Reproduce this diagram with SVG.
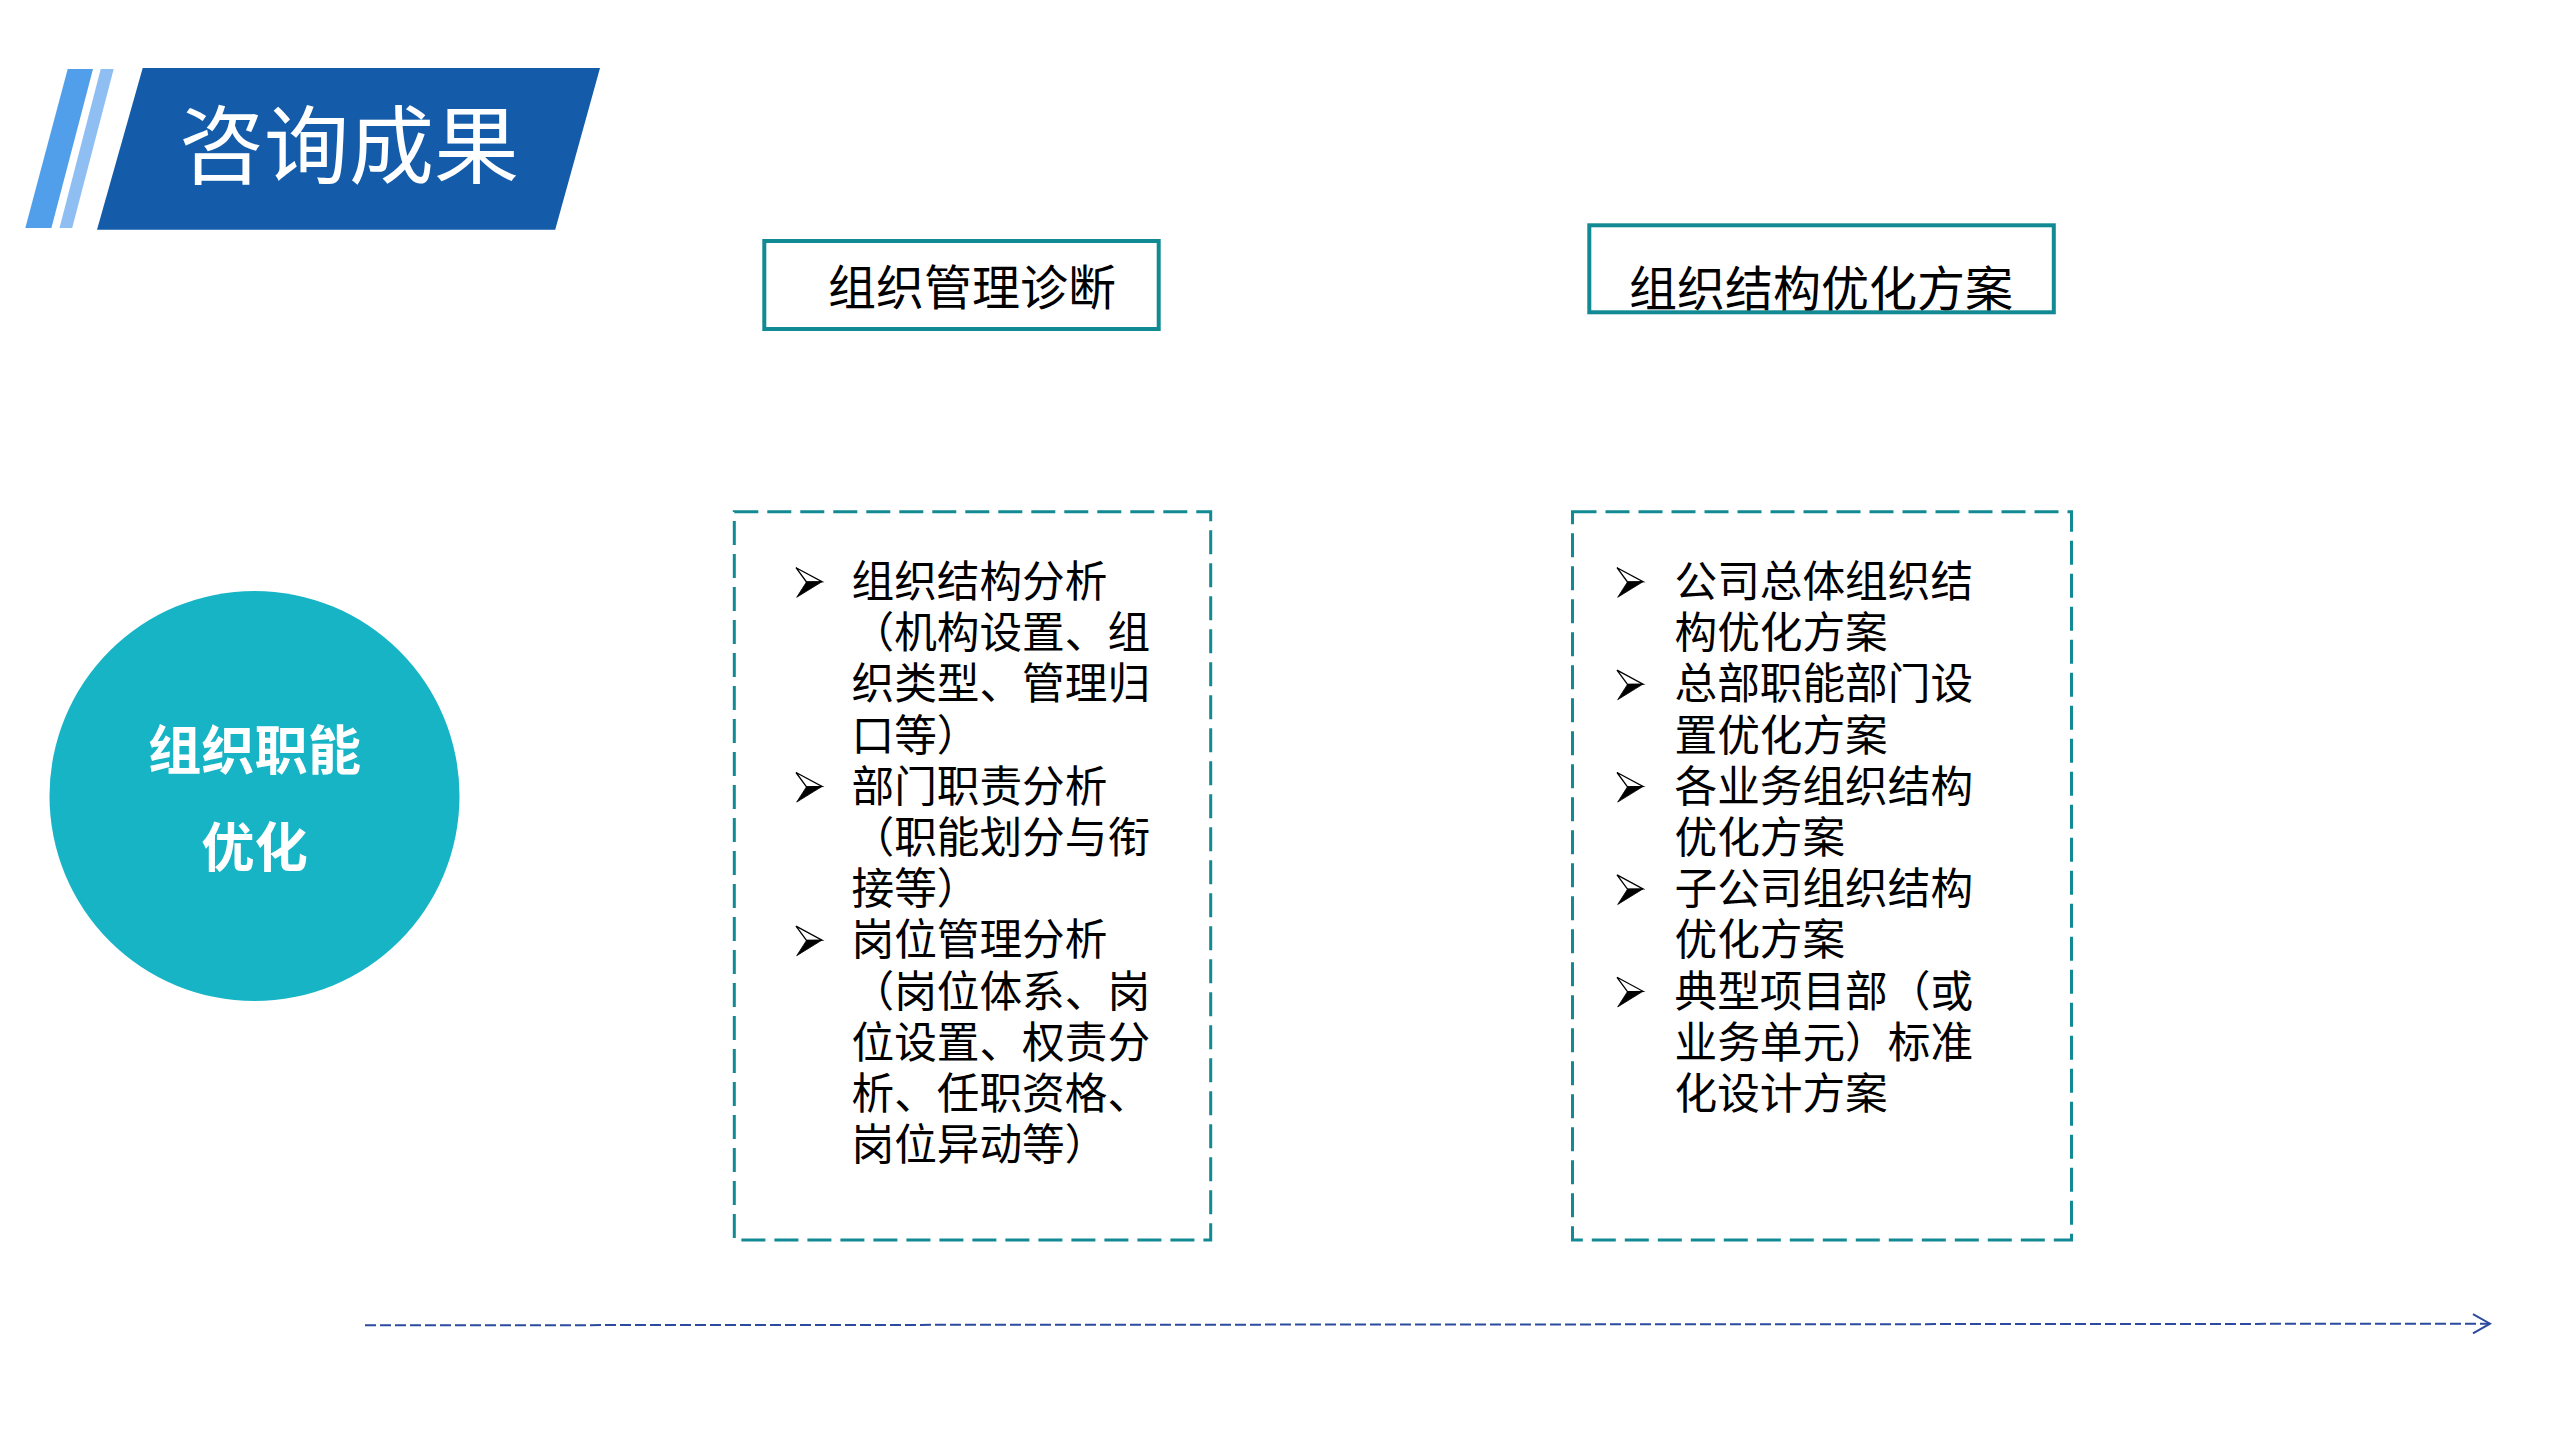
<svg xmlns="http://www.w3.org/2000/svg" width="2560" height="1440" viewBox="0 0 2560 1440">
<defs>
<style>
.cjk{font-family:"Noto Sans CJK SC","Noto Sans",sans-serif;}
.hdr{fill:#fff;stroke:#128A93;stroke-width:4;}
.htxt{font-size:48px;fill:#000;}
.dash{fill:none;stroke:#128A93;stroke-width:3;stroke-dasharray:24 9;}
.item{font-size:42.67px;fill:#000;}
</style>
<g id="bullet">
<polygon points="0,-29.3 26,-15.3 10.5,-15" fill="#fff" stroke="#000" stroke-width="1.3" stroke-linejoin="miter"/>
<polygon points="10.5,-15 26,-15.3 0.7,0.3" fill="#000" stroke="#000" stroke-width="0.8"/>
</g>
<marker id="open" markerUnits="userSpaceOnUse" markerWidth="24" markerHeight="24" refX="20" refY="12" orient="auto" viewBox="0 0 24 24">
<path d="M3 2.3 L20 12 L3 21.7" fill="none" stroke="#2C4B9E" stroke-width="2"/>
</marker>
</defs>
<rect width="2560" height="1440" fill="#fff"/>
<g id="title">
<polygon points="67.7,69 93,69 51.4,228 25.3,228" fill="#519FEA"/>
<polygon points="100.7,69 113.7,69 72.2,228 59.5,228" fill="#8FBFF2"/>
<polygon points="142.7,68 600,68 555.2,229.7 97,229.7" fill="#145CAA"/>
<text class="cjk" x="179" y="177" font-size="85" fill="#fff">咨询成果</text>
</g>
<g id="node-circle">
<circle cx="254.5" cy="796" r="205" fill="#17B4C6"/>
<text class="cjk" x="254.5" y="770" font-size="53.3" font-weight="bold" fill="#fff" text-anchor="middle">组织职能</text>
<text class="cjk" x="254.5" y="867" font-size="53.3" font-weight="bold" fill="#fff" text-anchor="middle">优化</text>
</g>
<g id="node-diagnosis">
<rect class="hdr" x="764.3" y="241" width="394.4" height="88"/>
<text class="cjk htxt" x="828" y="305">组织管理诊断</text>
</g>
<g id="node-plan">
<rect class="hdr" x="1589.3" y="225.3" width="464.5" height="87"/>
<text class="cjk htxt" x="1629" y="305.5">组织结构优化方案</text>
</g>
<g id="node-diagnosis-items">
<rect class="dash" x="734.3" y="511.7" width="476.4" height="728.3"/>
<use href="#bullet" x="796" y="597"/>
<use href="#bullet" x="796" y="801.8"/>
<use href="#bullet" x="796" y="955.4"/>
<text class="cjk item" x="851.5" y="597">组织结构分析</text>
<text class="cjk item" x="851.5" y="648.2">（机构设置、组</text>
<text class="cjk item" x="851.5" y="699.4">织类型、管理归</text>
<text class="cjk item" x="851.5" y="750.6">口等）</text>
<text class="cjk item" x="851.5" y="801.8">部门职责分析</text>
<text class="cjk item" x="851.5" y="853">（职能划分与衔</text>
<text class="cjk item" x="851.5" y="904.2">接等）</text>
<text class="cjk item" x="851.5" y="955.4">岗位管理分析</text>
<text class="cjk item" x="851.5" y="1006.6">（岗位体系、岗</text>
<text class="cjk item" x="851.5" y="1057.8">位设置、权责分</text>
<text class="cjk item" x="851.5" y="1109">析、任职资格、</text>
<text class="cjk item" x="851.5" y="1160.2">岗位异动等）</text>
</g>
<g id="node-plan-items">
<rect class="dash" x="1572.5" y="511.7" width="499" height="728.3"/>
<use href="#bullet" x="1617" y="597"/>
<use href="#bullet" x="1617" y="699.4"/>
<use href="#bullet" x="1617" y="801.8"/>
<use href="#bullet" x="1617" y="904.2"/>
<use href="#bullet" x="1617" y="1006.6"/>
<text class="cjk item" x="1674.5" y="597">公司总体组织结</text>
<text class="cjk item" x="1674.5" y="648.2">构优化方案</text>
<text class="cjk item" x="1674.5" y="699.4">总部职能部门设</text>
<text class="cjk item" x="1674.5" y="750.6">置优化方案</text>
<text class="cjk item" x="1674.5" y="801.8">各业务组织结构</text>
<text class="cjk item" x="1674.5" y="853">优化方案</text>
<text class="cjk item" x="1674.5" y="904.2">子公司组织结构</text>
<text class="cjk item" x="1674.5" y="955.4">优化方案</text>
<text class="cjk item" x="1674.5" y="1006.6">典型项目部（或</text>
<text class="cjk item" x="1674.5" y="1057.8">业务单元）标准</text>
<text class="cjk item" x="1674.5" y="1109">化设计方案</text>
</g>
<g id="connectors">
<line x1="365" y1="1325.3" x2="2490" y2="1323.7" stroke="#2C4B9E" stroke-width="2" stroke-dasharray="11 4" marker-end="url(#open)"/>
</g>
</svg>
